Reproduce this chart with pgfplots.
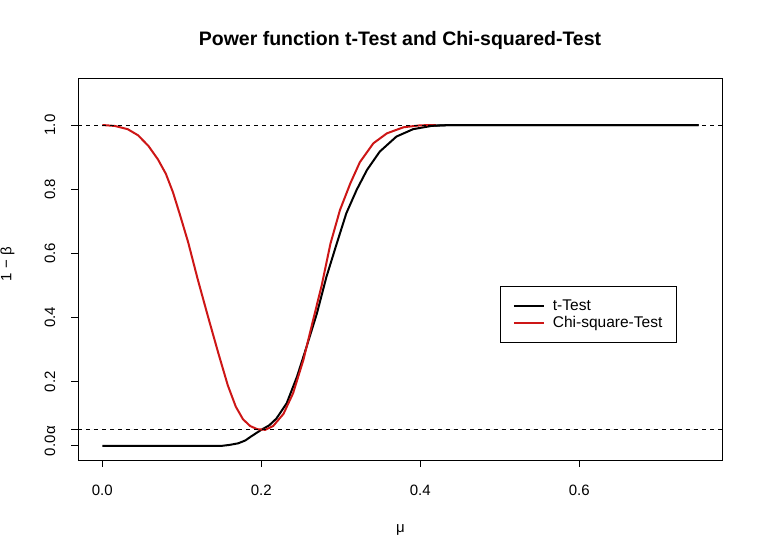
\documentclass[border=0pt]{standalone}
\usepackage{pgfplots}
\pgfplotsset{compat=1.18}
\usepackage{fontspec}
\setmainfont{Liberation Sans}
\definecolor{rred}{RGB}{205,22,22}
\begin{document}
\fontsize{15bp}{18bp}\selectfont
\begin{tikzpicture}
\path[use as bounding box] (-78.4bp,-99bp) rectangle (683.6bp,460bp);
\begin{axis}[
 at={(0,0)}, anchor=south west,
 scale only axis, width=644bp, height=381.2bp,
 xmin=-0.03, xmax=0.78, ymin=-0.044, ymax=1.144,
 axis line style={line width=0.8bp},
 tick align=outside, tick style={black, line width=0.8bp}, major tick length=7bp,
 xtick pos=bottom, ytick pos=left,
 xtick={0,0.2,0.4,0.6}, xticklabels={0.0,0.2,0.4,0.6},
 ytick={0,0.05,0.2,0.4,0.6,0.8,1}, yticklabels={0.0,α,0.2,0.4,0.6,0.8,1.0},
 tick label style={font=\fontsize{15bp}{18bp}\selectfont},
 xticklabel shift=13bp, yticklabel shift=11bp,
 yticklabel style={rotate=90, anchor=south},
 legend style={at={(axis cs:0.5003,0.498)}, anchor=north west, draw=black, line width=0.8bp,
   font=\fontsize{15.5bp}{18bp}\selectfont, inner xsep=12.5bp, inner ysep=11.5bp,
   nodes={inner sep=2bp}, row sep=-1bp, column sep=6bp},
 legend cell align=left,
 legend image code/.code={\draw[#1, line width=2bp] (0bp,0bp) -- (30bp,0bp);},
]
\addplot[black, line width=2bp] coordinates {
(0,0) (0.15,0) (0.16,0.003) (0.171,0.008) (0.18,0.017) (0.187,0.029) (0.2,0.05) (0.21,0.064) (0.219,0.085) (0.232,0.133) (0.245,0.216) (0.257,0.309) (0.27,0.413) (0.282,0.527) (0.295,0.631) (0.307,0.725) (0.32,0.798) (0.333,0.860) (0.349,0.917) (0.37,0.964) (0.391,0.987) (0.416,0.998) (0.44,1) (0.75,1)};
\addlegendentry{t-Test}
\addplot[rred, line width=2bp] coordinates {
(0,1) (0.016,0.997) (0.032,0.987) (0.045,0.968) (0.058,0.935) (0.070,0.893) (0.080,0.848) (0.089,0.790) (0.098,0.718) (0.108,0.635) (0.120,0.520) (0.133,0.403) (0.146,0.289) (0.158,0.188) (0.168,0.122) (0.177,0.083) (0.186,0.062) (0.195,0.052) (0.205,0.050) (0.215,0.062) (0.228,0.100) (0.240,0.164) (0.253,0.268) (0.265,0.390) (0.276,0.500) (0.287,0.630) (0.299,0.735) (0.312,0.818) (0.324,0.884) (0.341,0.943) (0.358,0.974) (0.379,0.993) (0.40,0.999) (0.42,1)};
\addlegendentry{Chi-square-Test}
\addplot[black, line width=2bp, forget plot] coordinates {(0.41,0.997) (0.44,1) (0.75,1)};
\addplot[black, line width=0.8bp, dash pattern=on 4bp off 4bp, forget plot] coordinates {(-0.03,1) (0.78,1)};
\addplot[black, line width=0.8bp, dash pattern=on 4bp off 4bp, forget plot] coordinates {(-0.03,0.05) (0.78,0.05)};
\end{axis}
\node[font=\bfseries\fontsize{19.5bp}{23bp}\selectfont] at (321.6bp,419.3bp) {Power function t-Test and Chi-squared-Test};
\node at (322bp,-70bp) {μ};
\node[rotate=90] at (-71bp,196bp) {1 − β};
\end{tikzpicture}
\end{document}
